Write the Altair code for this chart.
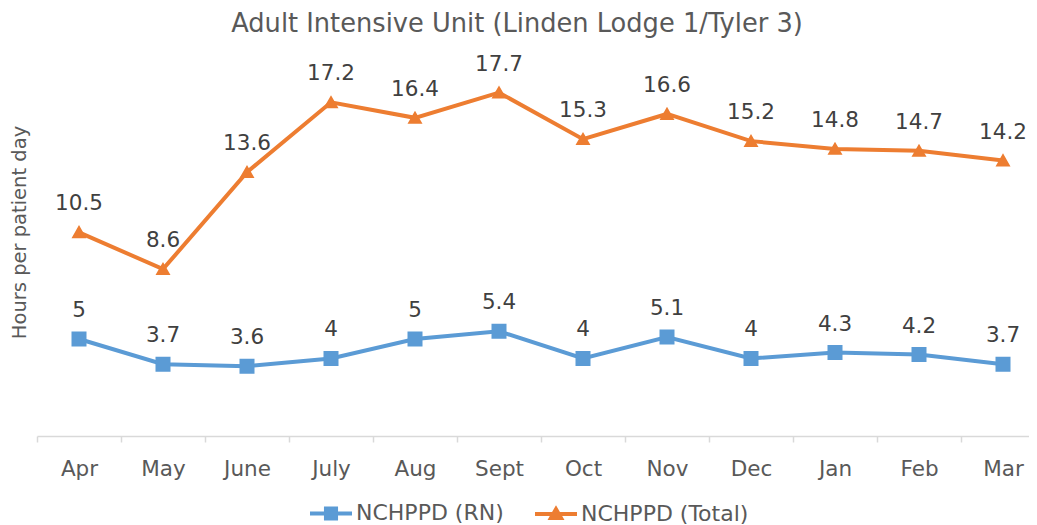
import altair as alt
import pandas as pd

months = ["Apr", "May", "June", "July", "Aug", "Sept", "Oct", "Nov", "Dec", "Jan", "Feb", "Mar"]
rn_values = [5, 3.7, 3.6, 4, 5, 5.4, 4, 5.1, 4, 4.3, 4.2, 3.7]
total_values = [10.5, 8.6, 13.6, 17.2, 16.4, 17.7, 15.3, 16.6, 15.2, 14.8, 14.7, 14.2]
series_names = ["NCHPPD (RN)", "NCHPPD (Total)"]
series_colors = ["#5B9BD5", "#ED7D31"]

rows = []
for m, v in zip(months, rn_values):
    rows.append({"month": m, "series": series_names[0], "value": v, "label": f"{v:g}"})
for m, v in zip(months, total_values):
    rows.append({"month": m, "series": series_names[1], "value": v, "label": f"{v:g}"})
df = pd.DataFrame(rows)

FONT = "DejaVu Sans"
GREY = "#595959"

x_enc = alt.X(
    "month:N",
    sort=months,
    scale=alt.Scale(range=[0, 1008], paddingInner=0, paddingOuter=0),
    axis=alt.Axis(
        title=None,
        tickBand="extent",
        labelAngle=0,
        labelAlign="center",
        labelFont=FONT,
        labelFontSize=21.5,
        labelColor=GREY,
        labelBaseline="alphabetic",
        labelPadding=33,
        tickColor="#D9D9D9",
        tickSize=6,
        tickWidth=1.5,
        domainColor="#D9D9D9",
        domainWidth=1.5,
        grid=False,
    ),
)
y_enc = alt.Y(
    "value:Q",
    scale=alt.Scale(domain=[0, 20], nice=False),
    axis=alt.Axis(
        title="Hours per patient day",
        titleFont=FONT,
        titleFontSize=19.5,
        titleFontWeight="normal",
        titleColor=GREY,
        titleX=-18,
        titleY=184,
        titleAlign="center",
        titleBaseline="middle",
        titleAngle=270,
        labels=False,
        ticks=False,
        domain=False,
        grid=False,
    ),
)
color_scale = alt.Scale(domain=series_names, range=series_colors)
marker_paths = [
    "M-1,0H1M-0.24,-0.24H0.24V0.24H-0.24Z",
    "M-1,0H1M-0.24,0.19L0,-0.23L0.24,0.19Z",
]
shape_scale = alt.Scale(domain=series_names, range=marker_paths)

leg = alt.Legend(
    title=None,
    orient="none",
    legendX=271,
    legendY=442,
    direction="horizontal",
    labelFont=FONT,
    labelFontSize=22,
    labelColor=GREY,
    labelLimit=400,
    symbolSize=1764,
    symbolStrokeWidth=4,
    labelOffset=2,
    columnPadding=23,
)

base = alt.Chart(df).encode(x=x_enc, y=y_enc)

# layer that only carries the legend (line + marker symbols)
legend_layer = base.transform_filter("false").mark_point(filled=True, opacity=1).encode(
    color=alt.Color("series:N", scale=color_scale, legend=leg),
    stroke=alt.Stroke("series:N", scale=color_scale, legend=leg),
    shape=alt.Shape("series:N", scale=shape_scale, legend=leg),
)

lines = base.mark_line(strokeWidth=4).encode(
    color=alt.Color("series:N", scale=color_scale, legend=None)
)
points = base.mark_point(filled=True, opacity=1, size=3906, strokeWidth=0).encode(
    color=alt.Color("series:N", scale=color_scale, legend=None),
    shape=alt.Shape("series:N", scale=shape_scale, legend=None),
)
labels = base.mark_text(
    font=FONT, fontSize=21.5, color="#404040", baseline="alphabetic", dy=-22
).encode(text="label:N")

chart = (
    alt.layer(legend_layer, lines, points, labels)
    .properties(
        width=984,
        height=388,
        padding={"left": 29, "top": 40, "right": 8, "bottom": 89},
        autosize=alt.AutoSizeParams(type="none"),
        title=alt.TitleParams(
            "Adult Intensive Unit (Linden Lodge 1/Tyler 3)",
            font=FONT,
            fontSize=25.7,
            fontWeight="normal",
            color=GREY,
            anchor="middle",
            dx=-12,
            offset=10,
        ),
    )
    .configure_view(stroke=None)
)

chart.save("out.html", embed_options={"renderer": "svg", "actions": False})
